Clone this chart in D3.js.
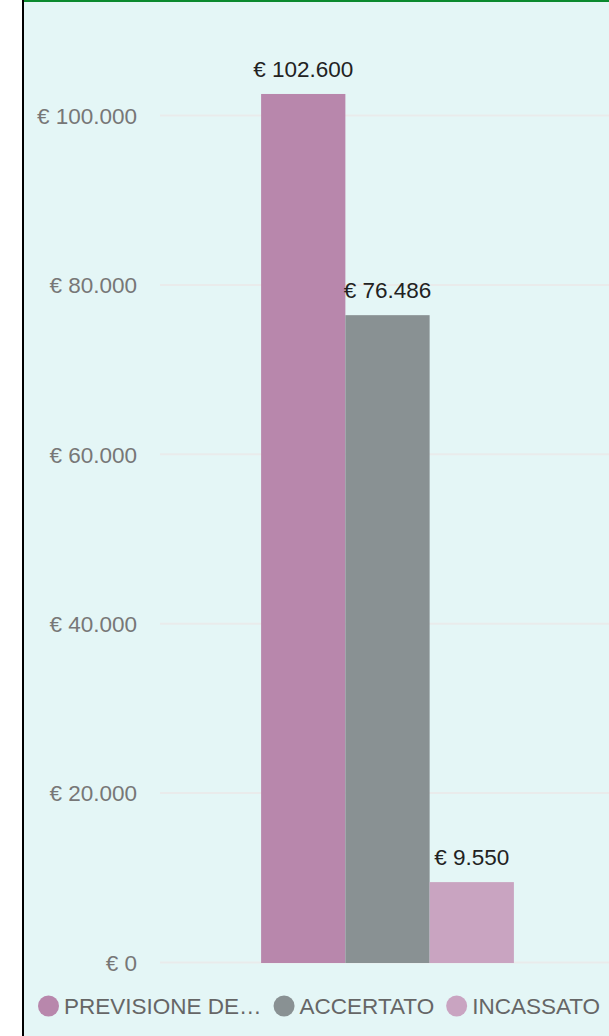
<!DOCTYPE html>
<html>
<head>
<meta charset="utf-8">
<script src="https://cdn.jsdelivr.net/npm/d3@7"></script>
<style>
    html, body { margin: 0; padding: 0; background: #ffffff; }
    svg { display: block; font-family: "Liberation Sans", Arial, sans-serif; }
</style>
</head>
<body>
<svg id="chart"></svg>
<script>
// Chart data
var categories = ["Entrate"];
var seriesNames = ["PREVISIONE DE\u2026", "ACCERTATO", "INCASSATO"];
var seriesValues = [102600, 76486, 9550];
var seriesColors = ["#b887ac", "#899193", "#c9a4c1"];
var tickValues = [0, 20000, 40000, 60000, 80000, 100000];

// Euro format with dot as thousands separator
var itLocale = d3.formatLocale({decimal: ",", thousands: ".", grouping: [3], currency: ["€", ""]});
var fmt = itLocale.format(",.0f");
var euro = function(v) { return "€ " + fmt(v); };

// Page size and frame
var width = 609, height = 1036;
var frameLeft = 22;

var svg = d3.select("#chart")
    .attr("width", width)
    .attr("height", height);

// Container background with borders
svg.append("rect")
    .attr("x", frameLeft)
    .attr("y", 0)
    .attr("width", width - frameLeft)
    .attr("height", height)
    .attr("fill", "#e4f6f6");

svg.append("rect")
    .attr("x", frameLeft)
    .attr("y", 0)
    .attr("width", width - frameLeft)
    .attr("height", 2)
    .attr("fill", "#0a8a2e");

svg.append("rect")
    .attr("x", frameLeft)
    .attr("y", 0)
    .attr("width", 2)
    .attr("height", height)
    .attr("fill", "#000000");

// Scales
var x = d3.scaleBand()
    .domain(categories)
    .range([160, 615])
    .paddingInner(0)
    .paddingOuter(0.4);

var xSeries = d3.scaleBand()
    .domain(seriesNames)
    .range([0, x.bandwidth()]);

var y = d3.scaleLinear()
    .domain([0, 100000])
    .range([963, 116]);

// Gridlines and y tick labels
var yAxis = svg.append("g")
    .attr("transform", "translate(160,0)")
    .call(d3.axisLeft(y)
        .tickValues(tickValues)
        .tickSize(-(width - 160))
        .tickPadding(23)
        .tickFormat(euro));

yAxis.select(".domain").remove();
yAxis.selectAll(".tick line")
    .attr("stroke", "#e9ebeb")
    .attr("stroke-width", 2)
    .attr("transform", "translate(0,-1)");
yAxis.selectAll(".tick text")
    .attr("fill", "#777777")
    .attr("font-size", "22.5px")
    .attr("font-family", "Liberation Sans, Arial, sans-serif");

// Bars
var bars = svg.append("g")
    .selectAll("rect")
    .data(seriesValues)
    .join("rect")
    .attr("x", function(d, i) { return x(categories[0]) + xSeries(seriesNames[i]); })
    .attr("y", function(d) { return y(d); })
    .attr("width", xSeries.bandwidth())
    .attr("height", function(d) { return y(0) - y(d); })
    .attr("fill", function(d, i) { return seriesColors[i]; });

// Value labels above bars
svg.append("g")
    .selectAll("text")
    .data(seriesValues)
    .join("text")
    .attr("x", function(d, i) { return x(categories[0]) + xSeries(seriesNames[i]) + xSeries.bandwidth() / 2; })
    .attr("y", function(d) { return y(d) - 17; })
    .attr("text-anchor", "middle")
    .attr("font-size", "22.5px")
    .attr("fill", "#222222")
    .text(function(d) { return euro(d); });

// Legend, laid out item by item
var legend = svg.append("g");
var lx = 38, ly = 1006, r = 10.5;

seriesNames.forEach(function(name, i) {
    legend.append("circle")
        .attr("cx", lx + r)
        .attr("cy", ly)
        .attr("r", r)
        .attr("fill", seriesColors[i]);

    var t = legend.append("text")
        .attr("x", lx + 2 * r + 5)
        .attr("y", ly)
        .attr("dy", "0.36em")
        .attr("font-size", "22.5px")
        .attr("fill", "#666666")
        .text(name);

    lx = lx + 2 * r + 5 + t.node().getComputedTextLength() + 12;
});
</script>
</body>
</html>
